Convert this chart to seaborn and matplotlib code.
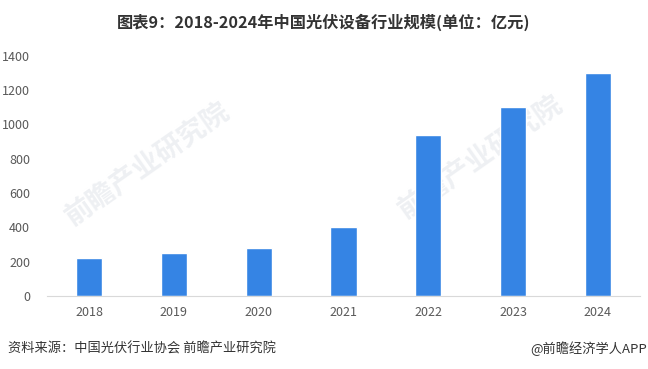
import numpy as np
import pandas as pd
import matplotlib
matplotlib.use('Agg')
import matplotlib.pyplot as plt
import seaborn as sns

# data
years = ['2018', '2019', '2020', '2021', '2022', '2023', '2024']
scale = [220, 250, 280, 400, 940, 1100, 1300]

df = pd.DataFrame({'year': years, 'scale': scale})

sns.set_style('white')
plt.rcParams['font.family'] = ['Noto Sans CJK SC', 'DejaVu Sans']

fig = plt.figure(figsize=(6.48, 3.69), dpi=100)
ax = fig.add_axes([0.072, 0.198, 0.916, 0.651])

sns.barplot(data=df, x='year', y='scale', color='#3584E4', width=0.31,
            saturation=1, ax=ax)

# faint watermarks behind the bars
for wx, wy in [(0.17, 0.55), (0.73, 0.58)]:
    ax.text(wx, wy, '前瞻产业研究院', transform=ax.transAxes, fontsize=20,
            color='#eef0f3', rotation=35, ha='center', va='center',
            zorder=0.5, fontweight='bold')

ax.set_ylim(0, 1400)
ax.set_yticks(range(0, 1401, 200))
ax.set_xlabel('')
ax.set_ylabel('')
ax.tick_params(axis='both', labelsize=9, colors='#595959', length=0)
ax.tick_params(axis='x', pad=7)
ax.tick_params(axis='y', pad=12)
for s in ['top', 'right', 'left']:
    ax.spines[s].set_visible(False)
ax.spines['bottom'].set_color('#d9d9d9')
ax.set_xlim(-0.5, 6.5)

fig.text(0.5, 0.94, '图表9：2018-2024年中国光伏设备行业规模(单位：亿元)',
         ha='center', va='center', fontsize=11.7, fontweight='bold', color='#333333')
fig.text(0.012, 0.055, '资料来源：中国光伏行业协会 前瞻产业研究院',
         ha='left', va='center', fontsize=9.5, color='#333333')
fig.text(0.998, 0.055, '@前瞻经济学人APP',
         ha='right', va='center', fontsize=9.5, color='#333333')

fig.savefig('out.png', dpi=100)
